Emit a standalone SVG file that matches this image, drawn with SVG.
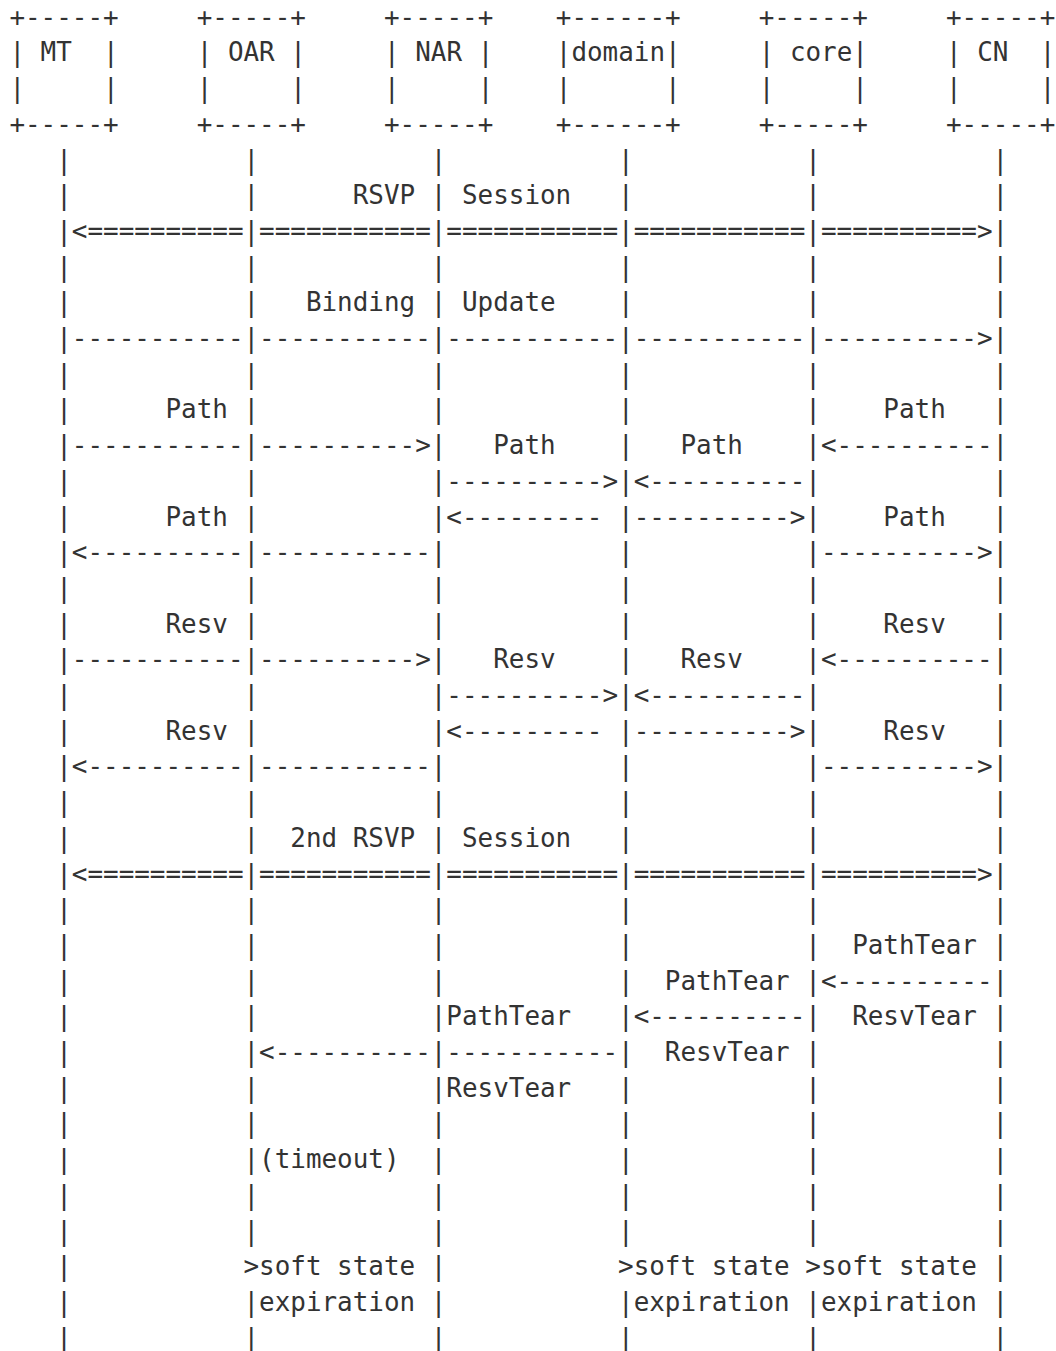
<svg xmlns="http://www.w3.org/2000/svg" width="1056" height="1351" viewBox="0 0 1056 1351">
<style>
text{font-family:"DejaVu Sans Mono","Liberation Mono",monospace;font-size:25.93px;fill:#333;white-space:pre}
</style>
<rect width="1056" height="1351" fill="#fff"/>
<g id="node-MT">
<text x="9.4" y="25.7">+-----+</text>
<text x="9.4" y="61.4">| MT  |</text>
<text x="9.4" y="97.1">|     |</text>
<text x="9.4" y="132.8">+-----+</text>
</g>
<g id="node-OAR">
<text x="196.7" y="25.7">+-----+</text>
<text x="196.7" y="61.4">| OAR |</text>
<text x="196.7" y="97.1">|     |</text>
<text x="196.7" y="132.8">+-----+</text>
</g>
<g id="node-NAR">
<text x="384.0" y="25.7">+-----+</text>
<text x="384.0" y="61.4">| NAR |</text>
<text x="384.0" y="97.1">|     |</text>
<text x="384.0" y="132.8">+-----+</text>
</g>
<g id="node-domain">
<text x="555.8" y="25.7">+------+</text>
<text x="555.8" y="61.4">|domain|</text>
<text x="555.8" y="97.1">|      |</text>
<text x="555.8" y="132.8">+------+</text>
</g>
<g id="node-core">
<text x="758.7" y="25.7">+-----+</text>
<text x="758.7" y="61.4">| core|</text>
<text x="758.7" y="97.1">|     |</text>
<text x="758.7" y="132.8">+-----+</text>
</g>
<g id="node-CN">
<text x="946.0" y="25.7">+-----+</text>
<text x="946.0" y="61.4">| CN  |</text>
<text x="946.0" y="97.1">|     |</text>
<text x="946.0" y="132.8">+-----+</text>
</g>
<g id="connectors">
<text x="9.4" y="168.5">   |           |           |           |           |           |</text>
<text x="9.4" y="204.2">   |           |      RSVP | Session   |           |           |</text>
<text x="9.4" y="239.9">   |&lt;==========|===========|===========|===========|==========&gt;|</text>
<text x="9.4" y="275.6">   |           |           |           |           |           |</text>
<text x="9.4" y="311.3">   |           |   Binding | Update    |           |           |</text>
<text x="9.4" y="347.0">   |-----------|-----------|-----------|-----------|----------&gt;|</text>
<text x="9.4" y="382.7">   |           |           |           |           |           |</text>
<text x="9.4" y="418.4">   |      Path |           |           |           |    Path   |</text>
<text x="9.4" y="454.1">   |-----------|----------&gt;|   Path    |   Path    |&lt;----------|</text>
<text x="9.4" y="489.8">   |           |           |----------&gt;|&lt;----------|           |</text>
<text x="9.4" y="525.5">   |      Path |           |&lt;--------- |----------&gt;|    Path   |</text>
<text x="9.4" y="561.2">   |&lt;----------|-----------|           |           |----------&gt;|</text>
<text x="9.4" y="596.9">   |           |           |           |           |           |</text>
<text x="9.4" y="632.6">   |      Resv |           |           |           |    Resv   |</text>
<text x="9.4" y="668.3">   |-----------|----------&gt;|   Resv    |   Resv    |&lt;----------|</text>
<text x="9.4" y="704.0">   |           |           |----------&gt;|&lt;----------|           |</text>
<text x="9.4" y="739.7">   |      Resv |           |&lt;--------- |----------&gt;|    Resv   |</text>
<text x="9.4" y="775.4">   |&lt;----------|-----------|           |           |----------&gt;|</text>
<text x="9.4" y="811.1">   |           |           |           |           |           |</text>
<text x="9.4" y="846.8">   |           |  2nd RSVP | Session   |           |           |</text>
<text x="9.4" y="882.5">   |&lt;==========|===========|===========|===========|==========&gt;|</text>
<text x="9.4" y="918.2">   |           |           |           |           |           |</text>
<text x="9.4" y="953.9">   |           |           |           |           |  PathTear |</text>
<text x="9.4" y="989.6">   |           |           |           |  PathTear |&lt;----------|</text>
<text x="9.4" y="1025.3">   |           |           |PathTear   |&lt;----------|  ResvTear |</text>
<text x="9.4" y="1061.0">   |           |&lt;----------|-----------|  ResvTear |           |</text>
<text x="9.4" y="1096.7">   |           |           |ResvTear   |           |           |</text>
<text x="9.4" y="1132.4">   |           |           |           |           |           |</text>
<text x="9.4" y="1168.1">   |           |(timeout)  |           |           |           |</text>
<text x="9.4" y="1203.8">   |           |           |           |           |           |</text>
<text x="9.4" y="1239.5">   |           |           |           |           |           |</text>
<text x="9.4" y="1275.2">   |           &gt;soft state |           &gt;soft state &gt;soft state |</text>
<text x="9.4" y="1310.9">   |           |expiration |           |expiration |expiration |</text>
<text x="9.4" y="1346.6">   |           |           |           |           |           |</text>
</g>
</svg>
